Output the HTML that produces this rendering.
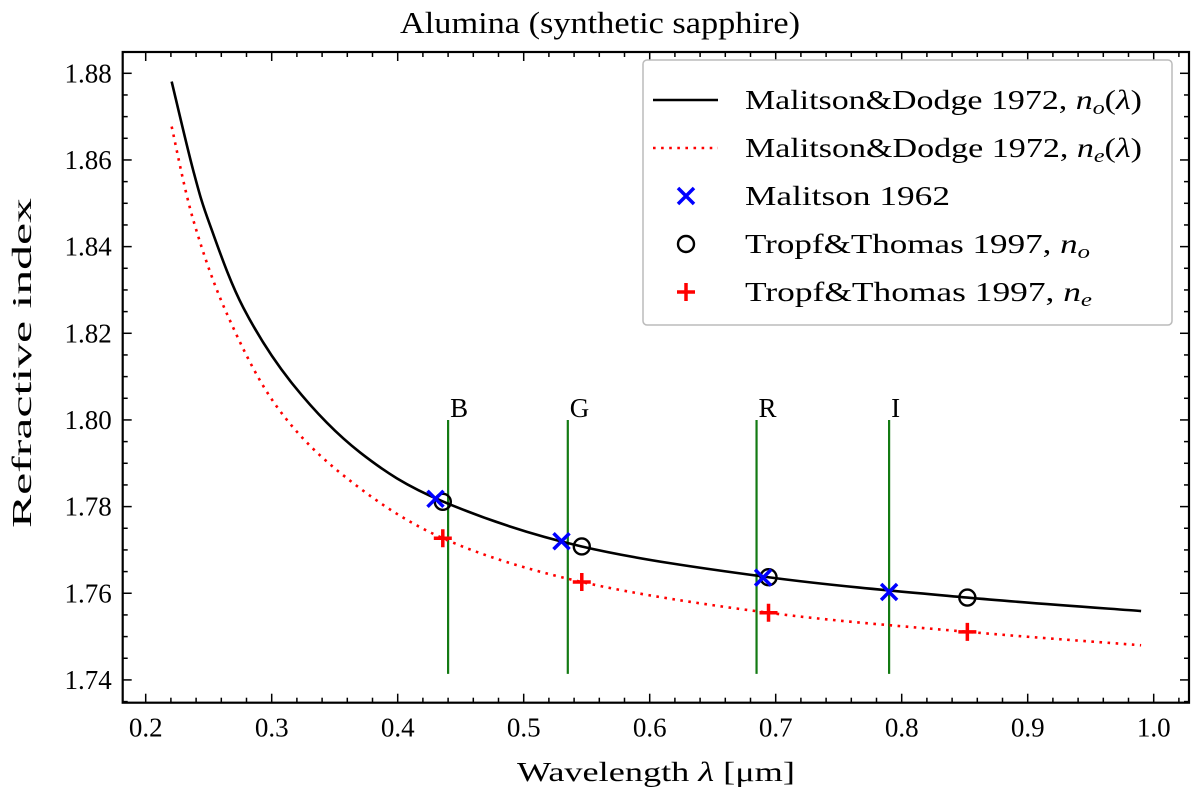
<!DOCTYPE html>
<html><head><meta charset="utf-8"><style>
body{margin:0;background:#fff}
svg text{font-family:"Liberation Serif","DejaVu Serif",serif;fill:#000}
</style></head><body>
<svg id="chart" width="1200" height="798" xmlns="http://www.w3.org/2000/svg"></svg>
<script>
const noLam=[0.2206,0.2378,0.251,0.2775,0.3171,0.3701,0.4358,0.5461,0.6943,0.8521,0.99];
const noVal=[1.8781,1.8575,1.8450,1.8259,1.8081,1.7925,1.7812,1.7708,1.7637,1.7590,1.7559];
const neLam=[0.2206,0.2378,0.2643,0.304,0.3582,0.4358,0.5461,0.6943,0.8521,0.99];
const neVal=[1.8677,1.8461,1.8246,1.8031,1.7869,1.7727,1.7626,1.7555,1.7511,1.7480];
const malLam=[0.430,0.530,0.690,0.790];
const malVal=[1.7818,1.7720,1.7636,1.7603];
const ttLam=[0.4358,0.5461,0.6943,0.8521];
const ttNo=[1.7811,1.7708,1.7637,1.7590];
const ttNe=[1.7727,1.7626,1.7555,1.7511];
const bandLam=[0.44,0.535,0.6848,0.79];
const bandNames=['B','G','R','I'];
const xTicks=[0.2,0.3,0.4,0.5,0.6,0.7,0.8,0.9,1.0];
const yTicks=[1.74,1.76,1.78,1.80,1.82,1.84,1.86,1.88];

const NS='http://www.w3.org/2000/svg';
const svg=document.getElementById('chart');
const L=122.7,R=1189,T=52,B=702.7;
const X=v=>145.7+(v-0.2)*1260;
const Y=v=>73.3+(1.88-v)*4333;
function mk(tag,at,parent){const e=document.createElementNS(NS,tag);for(const k in at)e.setAttribute(k,at[k]);(parent||svg).appendChild(e);return e;}
function smooth(xs,ys){const p=xs.map((x,i)=>[X(x),Y(ys[i])]);let d='M'+p[0][0]+','+p[0][1];
for(let i=0;i<p.length-1;i++){const p0=p[Math.max(i-1,0)],p1=p[i],p2=p[i+1],p3=p[Math.min(i+2,p.length-1)];
const c1=[p1[0]+(p2[0]-p0[0])/6,p1[1]+(p2[1]-p0[1])/6],c2=[p2[0]-(p3[0]-p1[0])/6,p2[1]-(p3[1]-p1[1])/6];
d+=` C${c1[0]},${c1[1]} ${c2[0]},${c2[1]} ${p2[0]},${p2[1]}`;}return d;}

let t=mk('text',{x:400,y:33,'font-size':31,textLength:400,lengthAdjust:'spacingAndGlyphs'});t.textContent='Alumina (synthetic sapphire)';



const tg=mk('g',{stroke:'#000','stroke-width':1.5});


for(let v=0.18;v<=1.03;v+=0.02){const x=X(v);if(x<L||x>R)continue;const maj=Math.abs(Math.round(v*10)-v*10)<1e-6;const s=maj?9:5;
mk('line',{x1:x,x2:x,y1:B,y2:B-s},tg);mk('line',{x1:x,x2:x,y1:T,y2:T+s},tg);}
for(let v=1.735;v<=1.885;v+=0.005){const y=Y(v);if(y<T||y>B)continue;const maj=Math.abs(Math.round(v*50)-v*50)<1e-6;const s=maj?9:5;
mk('line',{y1:y,y2:y,x1:L,x2:L+s},tg);mk('line',{y1:y,y2:y,x1:R,x2:R-s},tg);}
xTicks.forEach(v=>{const e=mk('text',{x:X(v),y:B+34,'text-anchor':'middle','font-size':27});e.textContent=v.toFixed(1);

});
yTicks.forEach(v=>{const e=mk('text',{x:L-11,y:Y(v)+9,'text-anchor':'end','font-size':27});e.textContent=v.toFixed(2);

});
t=mk('text',{x:517,y:781,'font-size':27,textLength:278,lengthAdjust:'spacingAndGlyphs'});t.innerHTML='Wavelength <tspan font-style="italic">λ</tspan> [μm]';


t=mk('text',{x:0,y:0,'font-size':27,textLength:330,lengthAdjust:'spacingAndGlyphs',transform:'translate(31 528) rotate(-90)'});t.textContent='Refractive index';



bandLam.forEach((v,i)=>{const l=mk('line',{x1:X(v),x2:X(v),y1:Y(1.80),y2:Y(1.7414),stroke:'#137a13','stroke-width':2.2});


const e=mk('text',{x:X(v)+2,y:Y(1.80)-3,'font-size':27});e.textContent=bandNames[i];

});

let p=mk('path',{d:smooth(noLam,noVal),fill:'none',stroke:'#000','stroke-width':2.6});


p=mk('path',{d:smooth(neLam,neVal),fill:'none',stroke:'#f00','stroke-width':2.6,'stroke-dasharray':'2.6 5.5'});



function cross(x,y,parent){mk('path',{d:`M${x-8},${y-8}L${x+8},${y+8}M${x-8},${y+8}L${x+8},${y-8}`,stroke:'#00f','stroke-width':3.5,fill:'none'},parent);}
function circ(x,y,parent){mk('circle',{cx:x,cy:y,r:8,stroke:'#000','stroke-width':2.4,fill:'none'},parent);}
function plus(x,y,parent){mk('path',{d:`M${x-9},${y}L${x+9},${y}M${x},${y-9}L${x},${y+9}`,stroke:'#f00','stroke-width':3.5,fill:'none'},parent);}
ttLam.forEach((v,i)=>{const g=mk('g',{});
circ(X(v),Y(ttNo[i]),g);});
malLam.forEach((v,i)=>{const g=mk('g',{});
cross(X(v),Y(malVal[i]),g);});
ttLam.forEach((v,i)=>{const g=mk('g',{});
plus(X(v),Y(ttNe[i]),g);});

p=mk('rect',{x:L,y:T,width:R-L,height:B-T,fill:'none',stroke:'#000','stroke-width':2.2});



const lg=mk('g',{});


mk('rect',{x:643,y:60,width:529,height:265,rx:4,fill:'#fff',stroke:'#bbb','stroke-width':1.5},lg);
const rows=[100,148,196,244,292];
const widths=[397,397,205,345,347];
const labels=['Malitson&amp;Dodge 1972, <tspan font-style="italic">n<tspan font-size="19" dy="5">o</tspan></tspan><tspan dy="-5">(</tspan><tspan font-style="italic">λ</tspan>)',
'Malitson&amp;Dodge 1972, <tspan font-style="italic">n<tspan font-size="19" dy="5">e</tspan></tspan><tspan dy="-5">(</tspan><tspan font-style="italic">λ</tspan>)',
'Malitson 1962','Tropf&amp;Thomas 1997, <tspan font-style="italic">n<tspan font-size="19" dy="5">o</tspan></tspan>',
'Tropf&amp;Thomas 1997, <tspan font-style="italic">n<tspan font-size="19" dy="5">e</tspan></tspan>'];
mk('line',{x1:653,x2:718,y1:rows[0],y2:rows[0],stroke:'#000','stroke-width':2.6},lg);
mk('line',{x1:653,x2:718,y1:rows[1],y2:rows[1],stroke:'#f00','stroke-width':2.6,'stroke-dasharray':'2.6 5.5'},lg);
cross(686,rows[2],lg);circ(686,rows[3],lg);plus(686,rows[4],lg);
rows.forEach((y,i)=>{const e=mk('text',{x:745,y:y+9,'font-size':27,textLength:widths[i],lengthAdjust:'spacingAndGlyphs'},lg);e.innerHTML=labels[i];

});
</script>
</body></html>
